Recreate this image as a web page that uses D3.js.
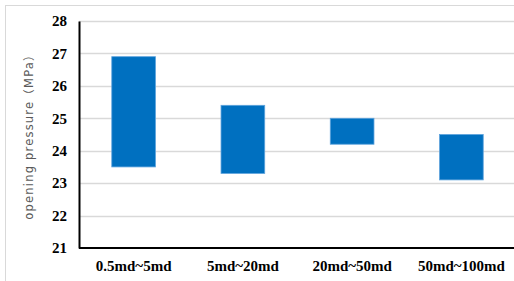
<!DOCTYPE html>
<html>
<head>
<meta charset="utf-8">
<script src="https://cdn.jsdelivr.net/npm/d3@7"></script>
<style>
  body { margin: 0; background: #fff; }
  svg { display: block; }
</style>
</head>
<body>
<script>
// chart values
var categories = ['0.5md~5md', '5md~20md', '20md~50md', '50md~100md'];
var lowValues = [23.5, 23.3, 24.2, 23.1];
var highValues = [26.9, 25.4, 25.0, 24.5];
var yTicks = [21, 22, 23, 24, 25, 26, 27, 28];

var width = 514,
  height = 281;
var margin = { top: 21, right: 0, bottom: 34, left: 79 };

var svg = d3
  .select('body')
  .append('svg')
  .attr('width', width)
  .attr('height', height);

// chart frame (cropped at right / bottom)
svg.append('rect')
  .attr('x', 5.5).attr('y', 5.5)
  .attr('width', width + 10).attr('height', height + 10)
  .attr('fill', 'none')
  .attr('stroke', '#d9d9d9');

var x = d3.scaleBand()
  .domain(categories)
  .range([margin.left, width + 2])
  .paddingInner(0.6)
  .paddingOuter(0.3);

var y = d3.scaleLinear()
  .domain([21, 28])
  .range([height - margin.bottom + 1, margin.top]);

// gridlines
svg.append('g')
  .selectAll('line')
  .data(yTicks.slice(1))
  .enter()
  .append('line')
  .attr('x1', margin.left)
  .attr('x2', width)
  .attr('y1', function(d) { return Math.round(y(d)) + 0.5; })
  .attr('y2', function(d) { return Math.round(y(d)) + 0.5; })
  .attr('stroke', '#d9d9d9')
  .attr('stroke-width', 1.3);

// floating bars: low -> high
svg.append('g')
  .selectAll('rect')
  .data(categories)
  .enter()
  .append('rect')
  .attr('x', function(d) { return x(d); })
  .attr('width', x.bandwidth())
  .attr('y', function(d, i) { return y(highValues[i]); })
  .attr('height', function(d, i) { return y(lowValues[i]) - y(highValues[i]); })
  .attr('fill', '#0070c0')
  .attr('stroke', '#5ea3dd')
  .attr('stroke-width', 0.8);

// y axis
var yAxis = svg.append('g')
  .attr('transform', 'translate(' + margin.left + ',0)')
  .call(d3.axisLeft(y).tickValues(yTicks).tickSize(0).tickPadding(12).tickFormat(d3.format('d')));
yAxis.select('.domain').attr('stroke', '#000').attr('stroke-width', 2);
yAxis.selectAll('text')
  .attr('font-family', '"Liberation Serif", "Times New Roman", serif')
  .attr('font-weight', 'bold')
  .attr('font-size', 15)
  .attr('fill', '#000');

// x axis
var xAxis = svg.append('g')
  .attr('transform', 'translate(0,' + y(21) + ')')
  .call(d3.axisBottom(x).tickSize(0).tickPadding(12));
xAxis.select('.domain')
  .attr('d', 'M' + margin.left + ',0H' + width)
  .attr('stroke', '#000')
  .attr('stroke-width', 2);
xAxis.selectAll('text')
  .attr('font-family', '"Liberation Serif", "Times New Roman", serif')
  .attr('font-weight', 'bold')
  .attr('font-size', 15)
  .attr('fill', '#000');

// y axis title
svg.append('text')
  .attr('transform', 'translate(33,' + 134 + ') rotate(-90)')
  .attr('text-anchor', 'middle')
  .attr('font-family', '"DejaVu Sans", "Noto Sans CJK SC", sans-serif')
  .attr('font-size', 11.5)
  .attr('letter-spacing', 1.2)
  .attr('fill', '#595959')
  .text('opening pressure（MPa）');
</script>
</body>
</html>
